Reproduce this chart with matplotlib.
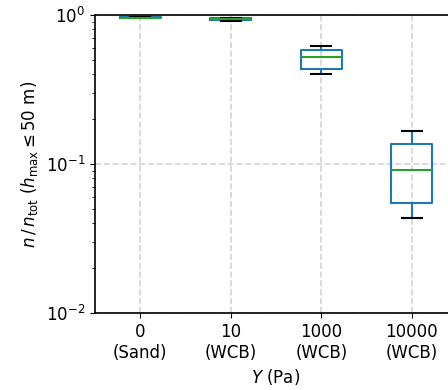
import matplotlib
matplotlib.use("Agg")
import matplotlib.pyplot as plt

# yield stress categories and box statistics of the fraction n/n_tot
labels = ["0\n(Sand)", "10\n(WCB)", "1000\n(WCB)", "10000\n(WCB)"]
whislo = [0.952, 0.916, 0.400, 0.0432]
q1 = [0.957, 0.921, 0.436, 0.0545]
med = [0.960, 0.936, 0.525, 0.0915]
q3 = [0.963, 0.950, 0.585, 0.1356]
whishi = [0.967, 0.955, 0.616, 0.1658]

stats = []
for i in range(len(labels)):
    stats.append(dict(whislo=whislo[i], q1=q1[i], med=med[i], q3=q3[i],
                      whishi=whishi[i], fliers=[], label=labels[i]))

plt.rcParams["font.size"] = 12

fig = plt.figure(figsize=(4.48, 3.90), dpi=100)
ax = fig.add_axes([95 / 448, 77 / 390, 362 / 448, 298 / 390])

ax.bxp(stats, widths=0.45, showfliers=False,
       boxprops=dict(color="#1f77b4", linewidth=1.5),
       whiskerprops=dict(color="#1f77b4", linewidth=1.5),
       capprops=dict(color="k", linewidth=1.5),
       medianprops=dict(color="#2ca02c", linewidth=1.5))

ax.set_yscale("log")
ax.set_ylim(1e-2, 1e0)
ax.set_xlim(0.5, 4.5)
ax.grid(True, ls="--", color="lightgray", linewidth=1.2)
ax.set_axisbelow(True)
for s in ax.spines.values():
    s.set_linewidth(1.2)

ax.set_ylabel(r"$n\,/\,n_{\rm tot}$ ($h_{\rm max} \leq 50$ m)")
ax.set_xlabel(r"$Y$ (Pa)")

fig.savefig("out.png", dpi=100)
